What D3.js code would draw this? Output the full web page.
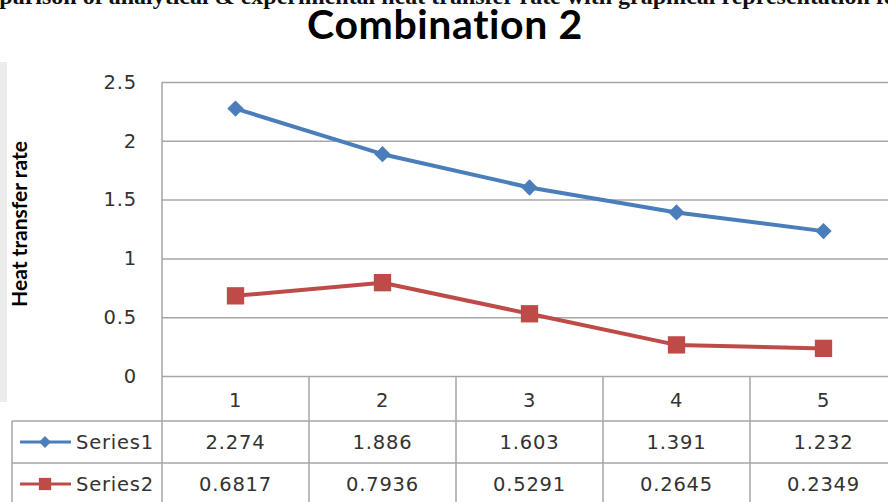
<!DOCTYPE html>
<html>
<head>
<meta charset="utf-8">
<script src="https://cdn.jsdelivr.net/npm/d3@7"></script>
<style>
  html, body { margin: 0; padding: 0; background: #fff; }
  svg { display: block; }
</style>
</head>
<body>
<svg id="chart" width="888" height="502"></svg>
<script>
// Heat transfer rate for Combination 2, five runs, two series
const categories = ["1", "2", "3", "4", "5"];
const series1 = [2.274, 1.886, 1.603, 1.391, 1.232];
const series2 = [0.6817, 0.7936, 0.5291, 0.2645, 0.2349];
const seriesNames = ["Series1", "Series2"];
const yTicks = [0, 0.5, 1, 1.5, 2, 2.5];

const W = 888, H = 502;
const svg = d3.select("#chart");

const plotLeft = 162, colW = 147;
const x = d3.scaleBand().domain(categories).range([plotLeft, plotLeft + colW * categories.length]).padding(0);
const y = d3.scaleLinear().domain([0, 2.5]).range([376, 82]);

const gridColor = "#a6a6a6";
const textColor = "#333333";
const font = "'DejaVu Sans', Verdana, sans-serif";
const fs = 19.5, ls = 0.8;

// caption line running off the top edge
svg.append("text")
  .attr("x", -50).attr("y", 4)
  .attr("font-family", "'Liberation Serif', 'Times New Roman', serif")
  .attr("font-weight", "bold").attr("font-size", 24)
  .attr("fill", "#111")
  .text("Comparison of analytical & experimental heat transfer rate with graphical representation for");

// faint shading strip at the left edge
svg.append("rect").attr("x", 0).attr("y", 62).attr("width", 7).attr("height", 340).attr("fill", "#ececec");

// title
svg.append("text")
  .attr("x", 445).attr("y", 39)
  .attr("text-anchor", "middle")
  .attr("font-family", "Lato, 'Open Sans', sans-serif")
  .attr("font-weight", "bold").attr("font-size", 41)
  .attr("letter-spacing", 0.6)
  .attr("fill", "#000")
  .text("Combination 2");

// y axis title
svg.append("text")
  .attr("transform", "translate(27,224) rotate(-90)")
  .attr("text-anchor", "middle")
  .attr("font-family", "Lato, 'Open Sans', sans-serif")
  .attr("font-weight", "bold").attr("font-size", 21)
  .attr("fill", "#000")
  .text("Heat transfer rate");

// horizontal gridlines
const yAxis = d3.axisLeft(y).tickValues(yTicks).tickSize(-(W - plotLeft)).tickFormat(d3.format("~g")).tickPadding(25);
const gy = svg.append("g").attr("transform", `translate(${plotLeft},0)`).call(yAxis);
gy.select(".domain").remove();
gy.selectAll(".tick line").attr("stroke", gridColor).attr("stroke-width", 1.5);
gy.selectAll(".tick text")
  .attr("font-family", font).attr("font-size", fs).attr("letter-spacing", ls).attr("fill", textColor);

// plot left border
svg.append("line").attr("x1", plotLeft).attr("x2", plotLeft).attr("y1", y(2.5)).attr("y2", H)
  .attr("stroke", gridColor).attr("stroke-width", 1.5);

// data table
const rowTop = [376, 421, 463];
const rowBot = [421, 463, 505];
const tableLeft = 12;

// column separators
categories.forEach(c => {
  const xr = x(c) + x.bandwidth();
  svg.append("line").attr("x1", xr).attr("x2", xr).attr("y1", rowTop[0]).attr("y2", H)
    .attr("stroke", gridColor).attr("stroke-width", 1.5);
});
// horizontal table lines
[421, 463].forEach(yy => {
  svg.append("line").attr("x1", tableLeft).attr("x2", W).attr("y1", yy).attr("y2", yy)
    .attr("stroke", gridColor).attr("stroke-width", 1.5);
});
svg.append("line").attr("x1", tableLeft).attr("x2", tableLeft).attr("y1", 421).attr("y2", H)
  .attr("stroke", gridColor).attr("stroke-width", 1.5);

// category labels
svg.append("g").selectAll("text").data(categories).join("text")
  .attr("x", d => x(d) + x.bandwidth() / 2).attr("y", (rowTop[0] + rowBot[0]) / 2 + 1)
  .attr("dy", "0.36em").attr("text-anchor", "middle")
  .attr("font-family", font).attr("font-size", fs).attr("letter-spacing", ls).attr("fill", textColor)
  .text(d => d);

const seriesData = [series1, series2];
const colors = ["#4a7ebb", "#be4b48"];
const diamond = d3.symbol().type(d3.symbolDiamond2).size(170);
const square = d3.symbol().type(d3.symbolSquare).size(300);
const shapes = [diamond, square];

seriesData.forEach((vals, i) => {
  const cy = (rowTop[i + 1] + rowBot[i + 1]) / 2;
  // values
  svg.append("g").selectAll("text").data(vals).join("text")
    .attr("x", (d, j) => x(categories[j]) + x.bandwidth() / 2).attr("y", cy)
    .attr("dy", "0.36em").attr("text-anchor", "middle")
    .attr("font-family", font).attr("font-size", fs).attr("letter-spacing", ls).attr("fill", textColor)
    .text(d => String(d));
  // legend key
  svg.append("line").attr("x1", 20).attr("x2", 71).attr("y1", cy).attr("y2", cy)
    .attr("stroke", colors[i]).attr("stroke-width", 3);
  svg.append("path").attr("d", i === 0 ? d3.symbol().type(d3.symbolDiamond2).size(90)() : d3.symbol().type(d3.symbolSquare).size(150)())
    .attr("transform", `translate(45,${cy})`).attr("fill", colors[i]);
  svg.append("text").attr("x", 76).attr("y", cy).attr("dy", "0.36em")
    .attr("font-family", font).attr("font-size", fs).attr("letter-spacing", ls).attr("fill", textColor)
    .text(seriesNames[i]);
});

// series lines and markers
const line = d3.line().x((d, j) => x(categories[j]) + x.bandwidth() / 2).y(d => y(d));
seriesData.forEach((vals, i) => {
  svg.append("path").datum(vals).attr("d", line)
    .attr("fill", "none").attr("stroke", colors[i]).attr("stroke-width", 4)
    .attr("stroke-linejoin", "round");
  svg.append("g").selectAll("path").data(vals).join("path")
    .attr("d", shapes[i]())
    .attr("transform", (d, j) => `translate(${x(categories[j]) + x.bandwidth() / 2},${y(d)})`)
    .attr("fill", colors[i]);
});
</script>
</body>
</html>
